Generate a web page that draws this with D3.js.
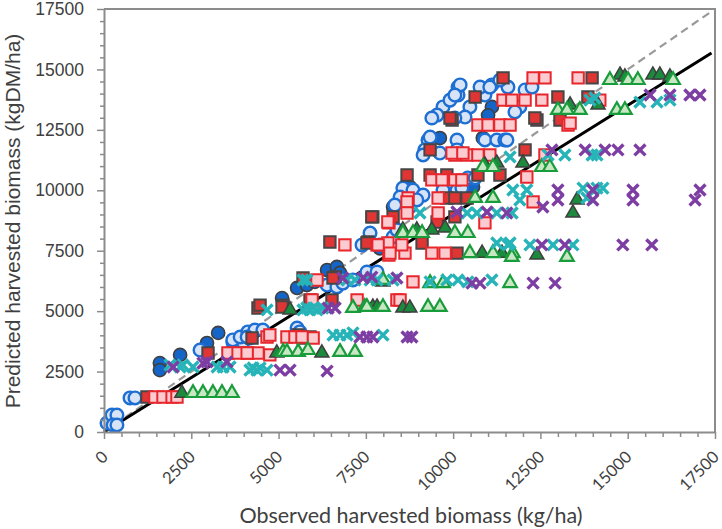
<!DOCTYPE html>
<html>
<head>
<meta charset="utf-8">
<script src="https://cdn.jsdelivr.net/npm/d3@7"></script>
<style>
  body { margin: 0; background: #fff; }
  svg { display: block; }
</style>
</head>
<body>
<div id="chart"></div>
<script>
// observed vs predicted harvested biomass, [observed, predicted] in kg/ha

const darkCircles = [[1600, 2850], [1600, 2560], [2180, 3190], [2950, 3680], [3270, 4100],
  [5100, 5540], [5530, 5960], [5810, 6080], [6040, 6210], [6390, 6700], [6670, 6830],
  [6760, 6580], [8280, 9310], [8760, 10140], [10570, 10140], [9620, 12160], [10850, 12160],
  [11110, 13450], [11000, 13100], [7900, 7600], [4000, 3900]]

const lightCircles = [[86, 370], [230, 700], [370, 700], [260, 290], [370, 290], [745, 1410],
  [888, 1410], [2750, 3390], [3690, 3720], [3980, 3720], [4180, 3890], [3690, 3810],
  [3900, 3930], [4120, 4140], [4320, 4220], [4100, 3930], [4550, 4220], [5530, 4300],
  [5610, 4140], [6390, 6080], [6670, 6000], [6840, 6160], [7130, 6290], [7530, 6620],
  [7820, 6620], [7390, 7740], [7620, 8230], [7900, 7740], [8280, 8070], [8390, 8360],
  [8560, 10090], [8850, 10010], [9140, 9800], [9710, 10010], [10110, 10010], [10250, 10090],
  [8480, 9720], [8330, 9390], [8760, 9310], [8960, 9600], [10420, 10510], [10630, 10510],
  [9280, 12080], [10110, 12080], [10910, 12080], [11250, 12080], [11480, 12080],
  [9190, 11670], [10110, 11670], [9140, 11460], [9620, 11540], [9340, 12200],
  [9710, 13450], [9540, 13110], [10480, 13450], [10340, 13030], [10050, 12990], [9390, 12990],
  [9910, 13730], [10140, 14270], [10140, 13940], [10200, 14360], [10050, 13940],
  [11110, 14360], [10910, 13940], [11570, 14270], [10770, 14270], [11050, 14270],
  [11340, 14560], [12060, 14150], [12260, 14270], [11910, 13450], [11770, 13240], [11540, 12080]]

const darkSquares = [[1230, 1450], [2980, 3270], [4240, 3890], [4410, 5130], [4470, 5250],
  [5130, 5250], [5900, 5460], [6530, 5460], [6620, 6410], [5700, 3890], [5100, 5170],
  [5700, 6370], [6560, 6370], [6470, 7860], [7560, 7860], [7700, 8900], [8280, 8900],
  [5560, 4010], [5900, 3930], [10110, 7400], [7530, 7820], [9110, 7820], [11430, 14650],
  [10630, 13860], [9970, 12910], [9340, 11670], [8680, 10630], [9340, 10630], [9820, 10630],
  [10710, 10630], [11340, 10630], [9820, 9680], [10050, 9680], [10400, 9680], [7670, 8900],
  [9540, 8690], [10050, 8900], [13980, 14650], [13000, 13860], [13860, 13860],
  [12400, 12910], [13060, 12910], [12060, 11670], [9910, 12990], [12340, 12990]]

const pinkSquares = [[1460, 1450], [1690, 1450], [1950, 1450], [2090, 1450], [3550, 3270],
  [3840, 3270], [4120, 3270], [4410, 3270], [4670, 3930], [5240, 3930], [5470, 3930],
  [5990, 3890], [4750, 4010], [5670, 3930], [4100, 3270], [4750, 3190], [5960, 5460],
  [7250, 5460], [8390, 5460], [6100, 6290], [6900, 7740], [7820, 7740], [8130, 7820],
  [8160, 8650], [8160, 7320], [8190, 7400], [8620, 7400], [9390, 7400], [9770, 7400],
  [7850, 7740], [8530, 7740], [8850, 6210], [8480, 5460], [11430, 13730], [11680, 13730],
  [10710, 12700], [11000, 12700], [11340, 12700], [11630, 12700], [10050, 11460],
  [10400, 11460], [10710, 11460], [11050, 11460], [9390, 10430], [9680, 10430],
  [10050, 10430], [10250, 10430], [8710, 9680], [9570, 9680], [8680, 9520], [8680, 9060],
  [9570, 9060], [8130, 8690], [10910, 8650], [12290, 14650], [12630, 14650], [13580, 14650],
  [12060, 13730], [12540, 13730], [14200, 13730], [13290, 12700], [13350, 12780],
  [12630, 11460], [12290, 9520], [12110, 10550], [9970, 11540], [10280, 11540]]

const darkTriangles = [[2230, 1610], [4950, 3270], [6240, 3270], [5330, 5050], [7700, 5170],
  [7820, 5170], [8560, 5130], [8760, 5130], [7990, 6210], [9390, 8360], [9770, 8440],
  [8560, 8360], [8960, 8360], [10830, 7400], [11400, 7400], [10910, 11050], [11250, 11130],
  [12000, 11130], [12400, 7320], [13430, 9060], [13550, 9600], [13350, 13530],
  [14150, 13530], [14780, 14770], [14920, 14690], [15720, 14770], [15920, 14770], [16210, 14690]]

const lightTriangles = [[2550, 1610], [2835, 1610], [3120, 1610], [3380, 1610], [3665, 1610],
  [5130, 3310], [5240, 3310], [5560, 3310], [5840, 3390], [6760, 3310], [7190, 3310],
  [7130, 5130], [7470, 5170], [7990, 5170], [7530, 5170], [9280, 5170], [9620, 5170],
  [7990, 6290], [9340, 6160], [9710, 6160], [11630, 6160], [8560, 8230], [8850, 8230],
  [9110, 8230], [10050, 8230], [10420, 8230], [10480, 7400], [11140, 7400], [11710, 7400],
  [10850, 10960], [11140, 10960], [10630, 9680], [11140, 9680], [12540, 10960],
  [12770, 10960], [11680, 7240], [13260, 7240], [13000, 13320], [13260, 13320],
  [13630, 13320], [14690, 13320], [14920, 13320], [14490, 14560], [15010, 14560],
  [15290, 14560], [16300, 14560]]

const cyanCrosses = [[2180, 2690], [2550, 2690], [3240, 2690], [3610, 2690], [1890, 2770],
  [2260, 2770], [3410, 2690], [4270, 2650], [4470, 2650], [4180, 2560], [4380, 2560],
  [4670, 2560], [4670, 5050], [5700, 5050], [5900, 5050], [6100, 5050], [5810, 5130],
  [5990, 5130], [6270, 5130], [5700, 6290], [5810, 6290], [6560, 4010], [6760, 4010],
  [6960, 4010], [7130, 4100], [7990, 4010], [6960, 6290], [7190, 6290], [7820, 6290],
  [8280, 6290], [7620, 6290], [9340, 6210], [9820, 6290], [10140, 6290], [10420, 6210],
  [11110, 6290], [11250, 7820], [11630, 7820], [9050, 9060], [10400, 9060], [10680, 9060],
  [11250, 9060], [11690, 9060], [11630, 11380], [11710, 10010], [12110, 10010],
  [11910, 9600], [12720, 11460], [13200, 11460], [13980, 11460], [14120, 11460],
  [13720, 10090], [14120, 10090], [14290, 10090], [13830, 9680], [13920, 13730],
  [14060, 13820], [15350, 13650], [15840, 13650], [16210, 13730], [11570, 7740],
  [12200, 7740], [12860, 7740], [13430, 7740]]

const purpleCrosses = [[1980, 2690], [2950, 2900], [3520, 2900], [2835, 2850], [5040, 2560],
  [5330, 2560], [6390, 2520], [6420, 5130], [6620, 5130], [7330, 3930], [7530, 3930],
  [7700, 3930], [8680, 3930], [8820, 3930], [6840, 6370], [7420, 6370], [7670, 6410],
  [8390, 6370], [10540, 6160], [10770, 6160], [10110, 9100], [10970, 9100], [11540, 9060],
  [12570, 9310], [13000, 10010], [13000, 9600], [14000, 10010], [14000, 9600],
  [15150, 10010], [15150, 9600], [17070, 10010], [16930, 9600], [12830, 11670],
  [13780, 11670], [14350, 11670], [14720, 11670], [15350, 11670], [15640, 13940],
  [16210, 13940], [16780, 13940], [17070, 13940], [12540, 7740], [13200, 7740],
  [14860, 7740], [15690, 7740], [12290, 6160], [12920, 6160]]

const fitLine = [[0, 0], [17400, 15680]]
const oneToOneLine = [[0, 0], [17400, 17400]]

const xTickLabels = ['0', '2500', '5000', '7500', '10000', '12500', '15000', '17500']
const yTickLabels = ['0', '2500', '5000', '7500', '10000', '12500', '15000', '17500']

const width = 722
const height = 529
const plot = { left: 104, right: 715, top: 9, bottom: 432 }

const x = d3.scaleLinear().domain([0, 17500]).range([plot.left, plot.right])
const y = d3.scaleLinear().domain([0, 17500]).range([plot.bottom, plot.top])

const svg = d3.select('#chart')
  .append('svg')
  .attr('width', width)
  .attr('height', height)

const axisColor = '#8c8c8c'
const textColor = '#404040'

// plot frame (top and right)
svg.append('path')
  .attr('d', `M${plot.left},${plot.top}H${plot.right}V${plot.bottom}`)
  .attr('fill', 'none')
  .attr('stroke', axisColor)
  .attr('stroke-width', 2)

// lines go under the markers
const line = d3.line().x(d => x(d[0])).y(d => y(d[1]))

svg.append('path')
  .datum(oneToOneLine)
  .attr('d', line)
  .attr('fill', 'none')
  .attr('stroke', '#999')
  .attr('stroke-width', 2.2)
  .attr('stroke-dasharray', '8,5')

svg.append('path')
  .datum(fitLine)
  .attr('d', line)
  .attr('fill', 'none')
  .attr('stroke', '#000')
  .attr('stroke-width', 3)

// a stroked x for the cross series
const crossSymbol = {
  draw (context, size) {
    const r = Math.sqrt(size) / 2
    context.moveTo(-r, -r)
    context.lineTo(r, r)
    context.moveTo(r, -r)
    context.lineTo(-r, r)
  }
}

const series = [
  { data: darkCircles, type: d3.symbolCircle, size: 135, fill: '#1565c8', stroke: '#3f3f3f', sw: 1.6 },
  { data: lightCircles, type: d3.symbolCircle, size: 125, fill: '#d7e3f6', stroke: '#1e6fd4', sw: 2.4 },
  { data: darkSquares, type: d3.symbolSquare, size: 130, fill: '#e03535', stroke: '#464646', sw: 2 },
  { data: pinkSquares, type: d3.symbolSquare, size: 130, fill: '#fbcbd0', stroke: '#e8272d', sw: 2 },
  { data: darkTriangles, type: d3.symbolTriangle, size: 85, fill: '#1b8a3c', stroke: '#3f3f3f', sw: 1.5 },
  { data: lightTriangles, type: d3.symbolTriangle, size: 80, fill: '#c8e7c2', stroke: '#189c3c', sw: 2.2 },
  { data: cyanCrosses, type: crossSymbol, size: 120, fill: 'none', stroke: '#27b4b8', sw: 3.4 },
  { data: purpleCrosses, type: crossSymbol, size: 120, fill: 'none', stroke: '#7d3ea3', sw: 3.4 }
]

series.forEach(function (s) {
  const sym = d3.symbol().type(s.type).size(s.size)
  svg.append('g')
    .selectAll('path')
    .data(s.data)
    .enter().append('path')
    .attr('d', sym)
    .attr('transform', d => `translate(${x(d[0])},${y(d[1])})`)
    .attr('fill', s.fill)
    .attr('stroke', s.stroke)
    .attr('stroke-width', s.sw)
})

// axes with minor ticks every 500
const tickVals = d3.range(0, 17501, 500)

const xAxis = svg.append('g')
  .attr('transform', `translate(0,${plot.bottom})`)
  .call(d3.axisBottom(x).tickValues(tickVals).tickSizeOuter(0).tickFormat(''))
xAxis.select('.domain').attr('stroke', axisColor).attr('stroke-width', 2)
xAxis.selectAll('.tick line')
  .attr('stroke', axisColor)
  .attr('stroke-width', 1.5)
  .attr('y2', d => d % 2500 === 0 ? 7 : 5)

const yAxis = svg.append('g')
  .attr('transform', `translate(${plot.left},0)`)
  .call(d3.axisLeft(y).tickValues(tickVals).tickSizeOuter(0).tickFormat(''))
yAxis.select('.domain').attr('stroke', axisColor).attr('stroke-width', 2)
yAxis.selectAll('.tick line')
  .attr('stroke', axisColor)
  .attr('stroke-width', 1.5)
  .attr('x2', d => d % 2500 === 0 ? -7 : -4)

// tick labels
svg.append('g')
  .selectAll('text')
  .data(yTickLabels)
  .enter().append('text')
  .attr('x', 84)
  .attr('y', d => y(+d))
  .attr('dy', '0.35em')
  .attr('text-anchor', 'end')
  .attr('font-family', 'Liberation Sans, Arial, sans-serif')
  .attr('font-size', 17.5)
  .attr('fill', textColor)
  .text(d => d)

svg.append('g')
  .selectAll('text')
  .data(xTickLabels)
  .enter().append('text')
  .attr('transform', d => `translate(${x(+d) + 5},${plot.bottom + 26}) rotate(-45)`)
  .attr('text-anchor', 'end')
  .attr('font-family', 'Lato, Open Sans, sans-serif')
  .attr('font-size', 16.5)
  .attr('fill', textColor)
  .text(d => d)

// axis titles
svg.append('text')
  .attr('x', 411)
  .attr('y', 523)
  .attr('text-anchor', 'middle')
  .attr('font-family', 'Lato, Open Sans, sans-serif')
  .attr('font-size', 21.5)
  .attr('fill', textColor)
  .text('Observed harvested biomass (kg/ha)')

svg.append('text')
  .attr('transform', 'translate(20,221) rotate(-90)')
  .attr('text-anchor', 'middle')
  .attr('font-family', 'Liberation Sans, Arial, sans-serif')
  .attr('font-size', 21)
  .attr('fill', textColor)
  .text('Predicted harvested biomass (kgDM/ha)')
</script>
</body>
</html>
